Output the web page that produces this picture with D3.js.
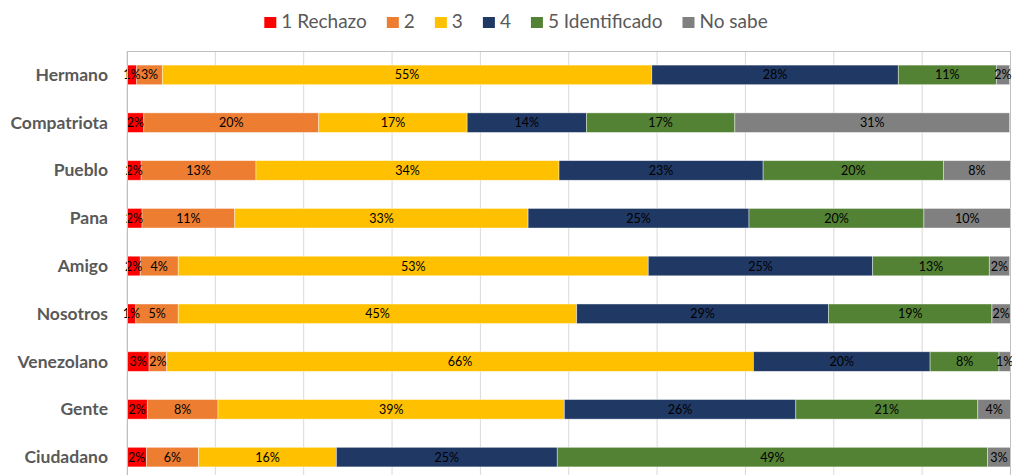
<!DOCTYPE html>
<html>
<head>
<meta charset="utf-8">
<script src="https://cdn.jsdelivr.net/npm/d3@7"></script>
<style>
  body { margin: 0; background: #fff; overflow: hidden; }
  svg { display: block; }
</style>
</head>
<body>
<svg width="1012" height="475"></svg>
<script>
// categories top -> bottom
var categories = ["Hermano", "Compatriota", "Pueblo", "Pana", "Amigo",
                  "Nosotros", "Venezolano", "Gente", "Ciudadano"];

var seriesNames = ["1 Rechazo", "2", "3", "4", "5 Identificado", "No sabe"];
var seriesColors = ["#ff0000", "#ed7d31", "#ffc000", "#203864", "#548235", "#808080"];

// percentages per category, one array per series
var rechazo      = [1.1, 1.9, 1.6, 1.7, 1.5, 1.0, 2.5, 2.3, 2.2];
var dos          = [2.9, 19.8, 13.0, 10.5, 4.3, 4.8, 2.0, 8.0, 5.9];
var tres         = [55.4, 16.8, 34.3, 33.2, 53.2, 45.1, 66.4, 39.2, 15.6];
var cuatro       = [27.9, 13.5, 23.1, 25.0, 25.4, 28.5, 20.0, 26.2, 25.0];
var identificado = [11.1, 16.8, 20.4, 19.8, 13.2, 18.5, 7.8, 20.6, 48.7];
var noSabe       = [1.5, 31.1, 7.6, 9.8, 2.3, 2.1, 1.3, 3.7, 2.6];

var xTicks = d3.range(0, 101, 10);

var seriesVals = [rechazo, dos, tres, cuatro, identificado, noSabe];

var rows = categories.map(function (c, i) {
  var r = { cat: c };
  seriesNames.forEach(function (s, j) { r[s] = seriesVals[j][i]; });
  return r;
});

var svg = d3.select("svg");
var m = { left: 127, right: 1010.5, top: 51, bottom: 481 };

var scX = d3.scaleLinear().domain([0, 100]).range([m.left, m.right]);
var scY = d3.scaleBand().domain(categories).range([m.top, m.bottom])
  .paddingInner(0.59).paddingOuter(0.295);
var scC = d3.scaleOrdinal().domain(seriesNames).range(seriesColors);

// gridlines
svg.append("g").selectAll("line")
  .data(xTicks).enter().append("line")
  .attr("x1", d => scX(d)).attr("x2", d => scX(d))
  .attr("y1", m.top).attr("y2", m.bottom)
  .attr("stroke", "#d9d9d9").attr("stroke-width", 1);

// plot frame
svg.append("line").attr("x1", m.left).attr("x2", m.right)
  .attr("y1", m.top + 0.5).attr("y2", m.top + 0.5)
  .attr("stroke", "#bfbfbf");
svg.append("line").attr("x1", m.right).attr("x2", m.right)
  .attr("y1", m.top).attr("y2", m.bottom)
  .attr("stroke", "#bfbfbf");

var stacked = d3.stack().keys(seriesNames)(rows);

// bars
svg.append("g").selectAll("g")
  .data(stacked).enter().append("g")
  .attr("fill", d => scC(d.key))
  .selectAll("rect")
  .data(d => d).enter().append("rect")
  .attr("x", d => scX(d[0]))
  .attr("width", d => scX(d[1]) - scX(d[0]))
  .attr("y", d => scY(d.data.cat))
  .attr("height", scY.bandwidth())
  .attr("stroke", "#ffffff").attr("stroke-opacity", 0.55)
  .attr("stroke-width", 0.75);

// value labels, on top of every bar
svg.append("g").selectAll("g")
  .data(stacked).enter().append("g")
  .selectAll("text")
  .data(d => d).enter().append("text")
  .attr("x", d => (scX(d[0]) + scX(d[1])) / 2)
  .attr("y", d => scY(d.data.cat) + scY.bandwidth() / 2 + 4.5)
  .attr("text-anchor", "middle")
  .attr("font-family", "Lato, 'Open Sans', sans-serif")
  .attr("font-size", 12.5).attr("fill", "#000")
  .text(d => Math.round(d[1] - d[0]) + "%");

// left axis
var axY = d3.axisLeft(scY).tickSize(0).tickPadding(19);
var gY = svg.append("g").attr("transform", "translate(" + m.left + ",0)").call(axY);
gY.select(".domain").attr("stroke", "#bfbfbf");
gY.selectAll("text")
  .attr("font-family", "Lato, sans-serif")
  .attr("font-size", 17.5).attr("font-weight", "bold")
  .attr("fill", "#595959").attr("dy", null)
  .attr("y", 6);

// legend
var lg = svg.append("g");
var items = lg.selectAll("g").data(seriesNames).enter().append("g");
items.append("rect").attr("width", 12).attr("height", 11).attr("y", 17)
  .attr("fill", d => scC(d));
items.append("text").attr("x", 17).attr("y", 28)
  .attr("font-family", "Lato, sans-serif").attr("font-size", 19)
  .attr("fill", "#595959").text(d => d);
var pos = 0;
items.each(function () {
  var w = d3.select(this).select("text").node().getComputedTextLength();
  d3.select(this).attr("transform", "translate(" + pos + ",0)");
  pos += 17 + w + 20;
});
var total = pos - 20;
lg.attr("transform", "translate(" + (516 - total / 2) + ",0)");
</script>
</body>
</html>
